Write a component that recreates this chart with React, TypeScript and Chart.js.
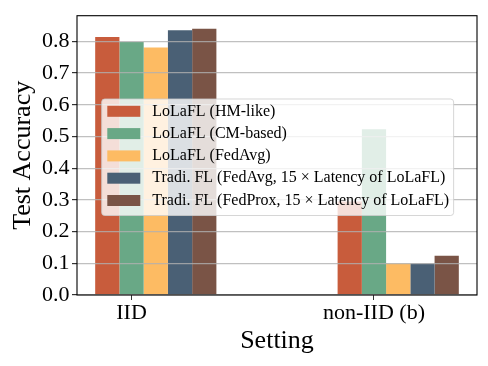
import React, { useEffect, useRef } from 'react';
import { Chart, registerables } from 'chart.js';

Chart.register(...registerables);

const FONT = "'Liberation Serif', 'Times New Roman', Times, serif";

// ---- data ----
const CATEGORIES = ['IID', 'non-IID (b)'];
const SERIES_LABELS = [
  'LoLaFL (HM-like)',
  'LoLaFL (CM-based)',
  'LoLaFL (FedAvg)',
  'Tradi. FL (FedAvg, 15 \u00d7 Latency of LoLaFL)',
  'Tradi. FL (FedProx, 15 \u00d7 Latency of LoLaFL)',
];
const HM_LIKE = [0.814, 0.295];
const CM_BASED = [0.798, 0.523];
const LOLAFL_FEDAVG = [0.781, 0.099];
const TRADI_FEDAVG = [0.835, 0.099];
const TRADI_FEDPROX = [0.84, 0.124];
const SERIES_VALUES = [HM_LIKE, CM_BASED, LOLAFL_FEDAVG, TRADI_FEDAVG, TRADI_FEDPROX];
const COLORS = ['#C85C3C', '#69A886', '#FDBB63', '#4A6075', '#7A5446'];

const Y_MIN = 0;
const Y_MAX = 0.881;
const Y_STEP = 0.1;
const X_MIN = -0.225;
const X_MAX = 1.425;

// style: group width as fraction of category spacing; group shifted so tick sits under 2nd bar
const GROUP_FRACTION = 0.5;
const BAR_WIDTH_UNITS = GROUP_FRACTION / SERIES_LABELS.length;

const mplPlugin = {
  id: 'mplFrameLegend',
  afterDraw(chart: any) {
    const { ctx, chartArea } = chart;
    ctx.save();
    // frame (spines)
    ctx.strokeStyle = '#000';
    ctx.lineWidth = 1.1;
    ctx.strokeRect(
      chartArea.left,
      chartArea.top,
      chartArea.right - chartArea.left,
      chartArea.bottom - chartArea.top
    );
    // legend
    ctx.font = `16px ${FONT}`;
    const items = chart.data.datasets;
    const textW = Math.max(...items.map((d: any) => ctx.measureText(d.label).width));
    const x0 = chartArea.left + 24.7;
    const y0 = chartArea.top + 83.3;
    const padL = 5.6, swW = 33, swH = 11, gap = 12, padR = 4.5, rowH = 22.3, padT = 12.3, padB = 15;
    const w = padL + swW + gap + textW + padR;
    const h = padT + (items.length - 1) * rowH + padB;
    ctx.beginPath();
    if ((ctx as any).roundRect) (ctx as any).roundRect(x0, y0, w, h, 3);
    else ctx.rect(x0, y0, w, h);
    ctx.fillStyle = 'rgba(255,255,255,0.8)';
    ctx.fill();
    ctx.strokeStyle = 'rgba(204,204,204,0.8)';
    ctx.lineWidth = 1;
    ctx.stroke();
    ctx.textBaseline = 'middle';
    ctx.textAlign = 'left';
    items.forEach((d: any, i: number) => {
      const cy = y0 + padT + i * rowH;
      ctx.fillStyle = d.backgroundColor;
      ctx.fillRect(x0 + padL, cy - swH / 2, swW, swH);
      ctx.fillStyle = '#000';
      ctx.fillText(d.label, x0 + padL + swW + gap, cy);
    });
    ctx.restore();
  },
};

export default function App() {
  const ref = useRef<HTMLCanvasElement>(null);

  useEffect(() => {
    const canvas = ref.current;
    if (!canvas) return;
    const datasets = SERIES_LABELS.map((label, k) => ({
      label,
      data: SERIES_VALUES[k].map((v, i) => ({ x: i + BAR_WIDTH_UNITS, y: v })),
      backgroundColor: COLORS[k],
      borderWidth: 0,
      categoryPercentage: GROUP_FRACTION,
      barPercentage: 1,
    }));
    const chart = new Chart(canvas, {
      type: 'bar',
      data: { datasets },
      plugins: [mplPlugin],
      options: {
        responsive: false,
        devicePixelRatio: 1,
        animation: false,
        events: [],
        layout: { padding: { top: 11.7, right: 11, left: 0, bottom: 0 } },
        plugins: { legend: { display: false }, tooltip: { enabled: false } },
        scales: {
          x: {
            type: 'linear',
            min: X_MIN,
            max: X_MAX,
            offset: false,
            afterBuildTicks: (s: any) => {
              s.ticks = CATEGORIES.map((_, i) => ({ value: i }));
            },
            ticks: {
              callback: (v: any) => CATEGORIES[Math.round(Number(v))] ?? '',
              font: { family: FONT, size: 22 },
              color: '#000',
              padding: 0,
              autoSkip: false,
              maxRotation: 0,
            },
            grid: {
              drawOnChartArea: false,
              drawTicks: true,
              tickLength: 5,
              tickColor: '#333',
              offset: false,
            },
            border: { display: false },
            title: {
              display: true,
              text: 'Setting',
              font: { family: FONT, size: 26 },
              color: '#000',
              padding: { top: 0, bottom: 9 },
            },
            afterFit: (s: any) => {
              s.height = 71;
            },
          },
          y: {
            min: Y_MIN,
            max: Y_MAX,
            ticks: {
              stepSize: Y_STEP,
              includeBounds: false,
              callback: (v: any) => Number(v).toFixed(1),
              font: { family: FONT, size: 22 },
              color: '#000',
              padding: 2.5,
            },
            grid: {
              color: 'rgba(176,176,176,0.8)',
              lineWidth: 1.2,
              tickLength: 5,
              tickColor: '#333',
              z: 1,
            },
            border: { display: false },
            title: {
              display: true,
              text: 'Test Accuracy',
              font: { family: FONT, size: 26 },
              color: '#000',
              padding: { top: 8, bottom: 0 },
            },
            afterFit: (s: any) => {
              s.width = 77;
            },
          },
        },
      } as any,
    });
    return () => chart.destroy();
  }, []);

  return (
    <div style={{ position: 'absolute', left: 0, top: 0, width: 488, height: 366, background: '#fff' }}>
      <canvas ref={ref} width={488} height={366} style={{ display: 'block', width: 488, height: 366 }} />
    </div>
  );
}
